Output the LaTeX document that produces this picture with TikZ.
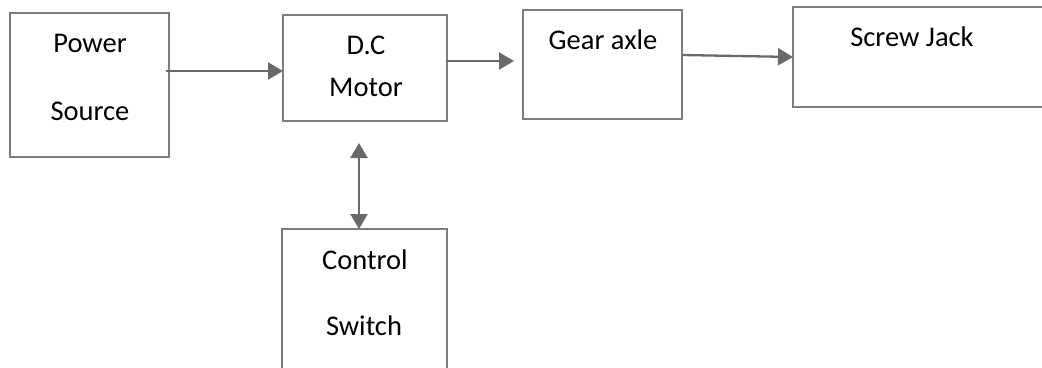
\documentclass[tikz,border=0pt]{standalone}
\usepackage{fontspec}
\setmainfont{Carlito}
\usetikzlibrary{arrows.meta}
\definecolor{boxgray}{RGB}{125,125,125}
\definecolor{arrgray}{RGB}{105,105,105}
\tikzset{
  blockbox/.style={draw=boxgray, line width=1.7pt, rectangle, inner sep=0pt, outer sep=0pt},
  lbl/.style={anchor=base, inner sep=0pt, font=\fontsize{28.5}{34}\selectfont, text=black},
  conn/.style={draw=arrgray, line width=2.3pt, -{Triangle[length=15pt,width=17pt]}},
  conn2/.style={draw=arrgray, line width=2.3pt, {Triangle[length=15pt,width=17pt]}-{Triangle[length=15pt,width=17pt]}}
}
\begin{document}
\begin{tikzpicture}[x=1pt,y=-1pt]
\useasboundingbox (0,0) rectangle (1042,367);
\clip (0,0) rectangle (1042,367);
\fill[white] (0,0) rectangle (1042,367);
% boxes
\node[blockbox, minimum width=159pt, minimum height=144pt] (ps) at (89.5,85) {};
\node[blockbox, minimum width=164pt, minimum height=106pt] (dc) at (365,68) {};
\node[blockbox, minimum width=159pt, minimum height=109pt] (ga) at (602.5,64.5) {};
\node[blockbox, minimum width=280pt, minimum height=100pt] (sj) at (933,57) {};
\node[blockbox, minimum width=165pt, minimum height=170pt] (cs) at (364.5,314) {};
% texts
\node[lbl] (t1) at (90,52.5) {Power};
\node[lbl] (t2) at (90,120) {Source};
\node[lbl] (t3) at (366,54) {D.C};
\node[lbl] (t4) at (366,96) {Motor};
\node[lbl] (t5) at (603,49) {Gear axle};
\node[lbl] (t6) at (912,46) {Screw Jack};
\node[lbl] (t7) at (365,269) {Control};
\node[lbl] (t8) at (364,335) {Switch};
% connectors
\coordinate (a1s) at (166,71);
\coordinate (a2s) at (446,61);
\coordinate (a2e) at (514,61);
\coordinate (a3s) at (682,55);
\coordinate (a4e) at (359,143);
\draw[conn] (a1s) -- (dc.west |- a1s);
\draw[conn] (a2s) -- (a2e);
\draw[conn] (a3s) -- (sj.west |- 0,57);
\draw[conn2] (a4e) -- (cs.north -| a4e);
\end{tikzpicture}
\end{document}
